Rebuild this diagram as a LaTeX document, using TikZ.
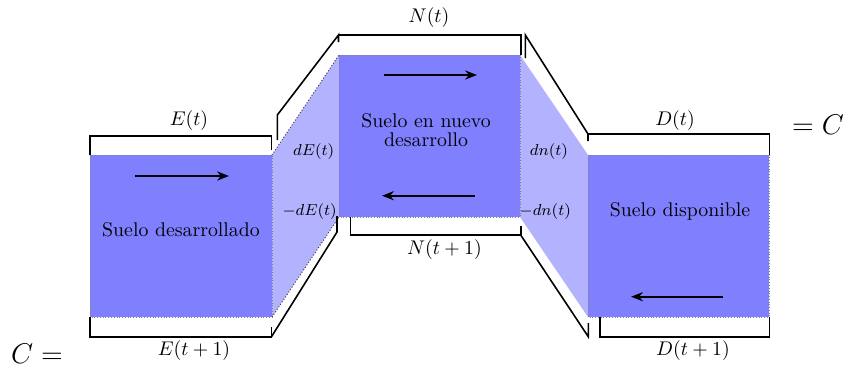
\documentclass[tikz,border=0pt]{standalone}
\usetikzlibrary{arrows.meta}
\begin{document}
\begin{tikzpicture}[x=0.505pt,y=-0.505pt,
  dark/.style={fill=blue!50},
  light/.style={fill=blue!30},
  edgeline/.style={draw=gray,densely dotted,line width=0.4pt},
  slantline/.style={draw=black!75,densely dotted,line width=0.5pt},
  bracket/.style={draw=black,thick,line join=miter},
  flow/.style={line width=1.2pt,-{Stealth[length=6pt,width=4.6pt]}},
  lbl/.style={inner sep=1pt},
  small/.style={font=\footnotesize,inner sep=1pt},
  big/.style={font=\Large,inner sep=1pt},
  boxtext/.style={align=center,inner sep=1pt}]
\useasboundingbox (0,0) rectangle (844,368);
% corners of the boxes
\coordinate (E1) at (90,155);  \coordinate (E2) at (272,155);
\coordinate (E3) at (272,317); \coordinate (E4) at (90,317);
\coordinate (N1) at (339,55);  \coordinate (N2) at (520,55);
\coordinate (N3) at (520,217); \coordinate (N4) at (339,217);
\coordinate (D1) at (588,155); \coordinate (D2) at (769,155);
\coordinate (D3) at (769,317); \coordinate (D4) at (588,317);
% fills
\fill[light] (E2) -- (N1) -- (N4) -- (E3) -- cycle;
\fill[light] (N2) -- (D1) -- (D4) -- (N3) -- cycle;
\fill[dark] (E1) rectangle (E3);
\fill[dark] (N1) rectangle (N3);
\fill[dark] (D1) rectangle (D3);
% dotted borders
\draw[edgeline] (E1) rectangle (E3);
\draw[edgeline] (N1) rectangle (N3);
\draw[edgeline] (D1) rectangle (D3);
\draw[slantline] (E2) -- (N1);
\draw[slantline] (E3) -- (N4);
% brackets, top
\draw[bracket] (90,155) -- (90,135.7) -- (271.5,135.7) -- (271.5,150);
\draw[bracket] (277.3,140) -- (277.3,115) -- (338.5,35) -- (338.5,42);
\draw[bracket] (338.5,35) -- (520.7,35) -- (520.7,55);
\draw[bracket] (525.3,58) -- (525.3,35) -- (588,134) -- (588,141);
\draw[bracket] (588,134) -- (769.3,134) -- (769.3,155);
% brackets, bottom
\draw[bracket] (90,317) -- (90,336.7) -- (271.5,336.7) -- (271.5,327);
\draw[bracket] (271.5,336.7) -- (337,232) -- (337,216);
\draw[bracket] (350.7,217) -- (350.7,235) -- (520.7,235) -- (520.7,226);
\draw[bracket] (520.7,235) -- (588.3,336.7) -- (588.3,323);
\draw[bracket] (600,317) -- (600,336.7) -- (769.3,336.7) -- (769.3,317);
% flow arrows
\coordinate (aE1) at (135,176);   \coordinate (aE2) at (229,176);
\coordinate (aN1) at (384,75);    \coordinate (aN2) at (477,75);
\coordinate (aN3) at (475,195.7); \coordinate (aN4) at (382,195.7);
\coordinate (aD1) at (723,296.7); \coordinate (aD2) at (631,296.7);
\draw[flow] (aE1) -- (aE2);
\draw[flow] (aN1) -- (aN2);
\draw[flow] (aN3) -- (aN4);
\draw[flow] (aD1) -- (aD2);
% box texts
\node[boxtext] (tE) at (181,230) {Suelo desarrollado};
\node[boxtext] (tN) at (426,130) {Suelo en nuevo\\[-2.5pt]desarrollo};
\node[boxtext] (tD) at (680,211) {Suelo disponible};
% bracket labels
\node[lbl] (lEt)  at (189,121) {$E(t)$};
\node[lbl] (lEt1) at (194,351) {$E(t+1)$};
\node[lbl] (lNt)  at (429,18)  {$N(t)$};
\node[lbl] (lNt1) at (444.5,250) {$N(t+1)$};
\node[lbl] (lDt)  at (675,121) {$D(t)$};
\node[lbl] (lDt1) at (693,351) {$D(t+1)$};
% flow labels
\node[small] (fE)  at (313.7,151.7) {$dE(t)$};
\node[small] (fEm) at (309.7,211.7) {$-dE(t)$};
\node[small] (fn)  at (549,151.7)   {$dn(t)$};
\node[small] (fnm) at (545.3,211.7) {$-dn(t)$};
% equation parts
\node[big] (eqR) at (818,125) {$=C$};
\node[big] (eqL) at (37,354) {$C=$};
\end{tikzpicture}
\end{document}
